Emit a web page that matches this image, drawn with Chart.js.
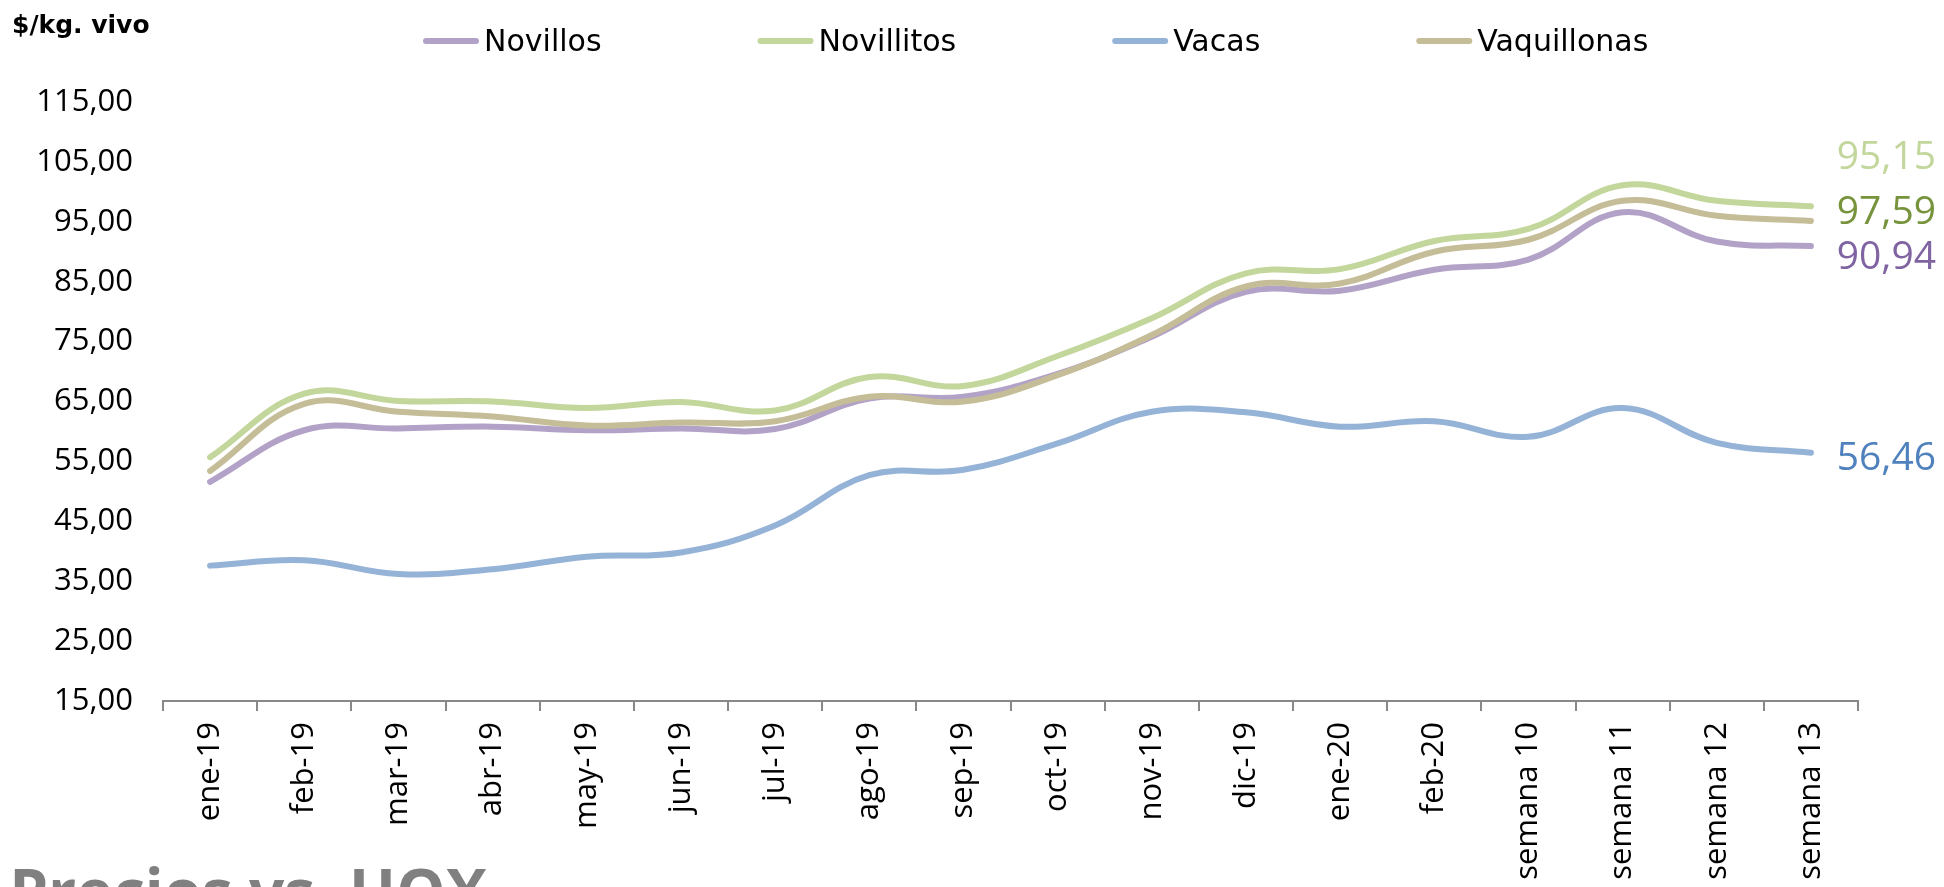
<!DOCTYPE html>
<html>
<head>
<meta charset="utf-8">
<script src="https://cdn.jsdelivr.net/npm/chart.js@4.4.1/dist/chart.umd.min.js"></script>
<style>
  html, body { margin: 0; padding: 0; background: #fff; overflow: hidden; }
  #wrap { position: relative; width: 1944px; height: 887px; }
</style>
</head>
<body>
<div id="wrap"><canvas id="precios" width="1944" height="887"></canvas></div>
<script>
const periodos = ['ene-19', 'feb-19', 'mar-19', 'abr-19', 'may-19', 'jun-19', 'jul-19', 'ago-19', 'sep-19',
  'oct-19', 'nov-19', 'dic-19', 'ene-20', 'feb-20', 'semana 10', 'semana 11', 'semana 12', 'semana 13'];

const novillos    = [51.6, 60.2, 60.5, 60.8, 60.2, 60.5, 60.4, 65.5, 65.8, 69.6, 75.8, 83.3, 83.5, 87.0, 88.7, 96.6, 91.7, 90.94];
const novillitos  = [55.7, 66.3, 65.1, 65.0, 63.9, 64.9, 63.5, 69.1, 67.6, 72.6, 78.9, 86.4, 87.1, 91.8, 93.8, 101.1, 98.5, 97.59];
const vacas       = [37.6, 38.5, 36.2, 37.0, 39.1, 39.8, 44.3, 52.7, 53.6, 58.0, 63.3, 63.2, 60.8, 61.7, 59.1, 63.9, 58.1, 56.46];
const vaquillonas = [53.4, 64.6, 63.3, 62.5, 61.0, 61.5, 61.7, 65.8, 65.0, 69.4, 76.1, 84.2, 84.7, 90.0, 92.0, 98.5, 96.0, 95.15];

const series      = ['Novillos', 'Novillitos', 'Vacas', 'Vaquillonas'];
const lineColors  = ['#b3a2c7', '#c3d69b', '#95b3d7', '#c4bd97'];
const labelColors = ['#8064a2', '#77933c', '#4f81bd', '#c3d69b'];
// vertical nudge of the end-of-line value labels
const labelShift  = [12, 7, 6, -63];

const yTicks = { min: 15, max: 115, step: 10 };

const fmt = v => v.toFixed(2).replace('.', ',');
const TXT = 'Open Sans, sans-serif';

// legend + unit caption + end value labels + footer title
const extras = {
  id: 'extras',
  afterDraw(chart) {
    const ctx = chart.ctx;
    ctx.save();

    // unit caption
    ctx.fillStyle = '#000';
    ctx.font = 'bold 25px "DejaVu Sans"';
    ctx.textBaseline = 'alphabetic';
    ctx.textAlign = 'left';
    ctx.fillText('$/kg. vivo', 12, 33);

    // legend
    ctx.font = '30px "DejaVu Sans"';
    ctx.textBaseline = 'middle';
    let x = 423;
    series.forEach((name, i) => {
      ctx.strokeStyle = lineColors[i];
      ctx.lineWidth = 6;
      ctx.lineCap = 'round';
      ctx.beginPath();
      ctx.moveTo(x + 3, 41);
      ctx.lineTo(x + 53, 41);
      ctx.stroke();
      ctx.fillStyle = '#000';
      ctx.fillText(name, x + 61, 43);
      x += 61 + ctx.measureText(name).width + 156;
    });

    // last value of each series
    const ys = chart.scales.y;
    ctx.font = '39px ' + TXT;
    ctx.textAlign = 'right';
    const data = [novillos, novillitos, vacas, vaquillonas];
    data.forEach((arr, i) => {
      const v = arr[arr.length - 1];
      ctx.fillStyle = labelColors[i];
      ctx.fillText(fmt(v), 1936, ys.getPixelForValue(v) + labelShift[i]);
    });

    // footer title, cut by the bottom edge
    ctx.fillStyle = '#808080';
    ctx.font = 'bold 62px ' + TXT;
    ctx.textAlign = 'right';
    ctx.textBaseline = 'alphabetic';
    ctx.fillText('Precios vs. HOX', 487, 914);

    ctx.restore();
  }
};

function makeSet(label, values, i) {
  return {
    label: label,
    data: values,
    borderColor: lineColors[i],
    backgroundColor: lineColors[i],
    borderWidth: 6,
    borderCapStyle: 'round',
    pointRadius: 0,
    tension: 0.4,
    fill: false,
    order: 3 - i
  };
}

new Chart(document.getElementById('precios'), {
  type: 'line',
  data: {
    labels: periodos,
    datasets: [
      makeSet(series[0], novillos, 0),
      makeSet(series[1], novillitos, 1),
      makeSet(series[2], vacas, 2),
      makeSet(series[3], vaquillonas, 3)
    ]
  },
  options: {
    responsive: false,
    animation: false,
    devicePixelRatio: 1,
    layout: { padding: { left: 0, right: 86, top: 102, bottom: 0 } },
    plugins: {
      legend: { display: false },
      tooltip: { enabled: false }
    },
    scales: {
      x: {
        offset: true,
        grid: {
          offset: true,
          drawOnChartArea: false,
          drawTicks: true,
          tickLength: 10,
          color: '#888888',
          lineWidth: 2
        },
        border: { display: true, color: '#888888', width: 2 },
        ticks: {
          minRotation: 90,
          maxRotation: 90,
          autoSkip: false,
          padding: 11,
          color: '#000',
          font: { family: TXT, size: 31 }
        },
        afterFit(scale) { scale.height = 186; }
      },
      y: {
        min: yTicks.min,
        max: yTicks.max,
        grid: { display: false, drawTicks: false },
        border: { display: false },
        ticks: {
          stepSize: yTicks.step,
          padding: 30,
          color: '#000',
          font: { family: TXT, size: 31 },
          callback: v => fmt(v)
        },
        afterFit(scale) { scale.width = 163; }
      }
    }
  },
  plugins: [extras]
});
</script>
</body>
</html>
